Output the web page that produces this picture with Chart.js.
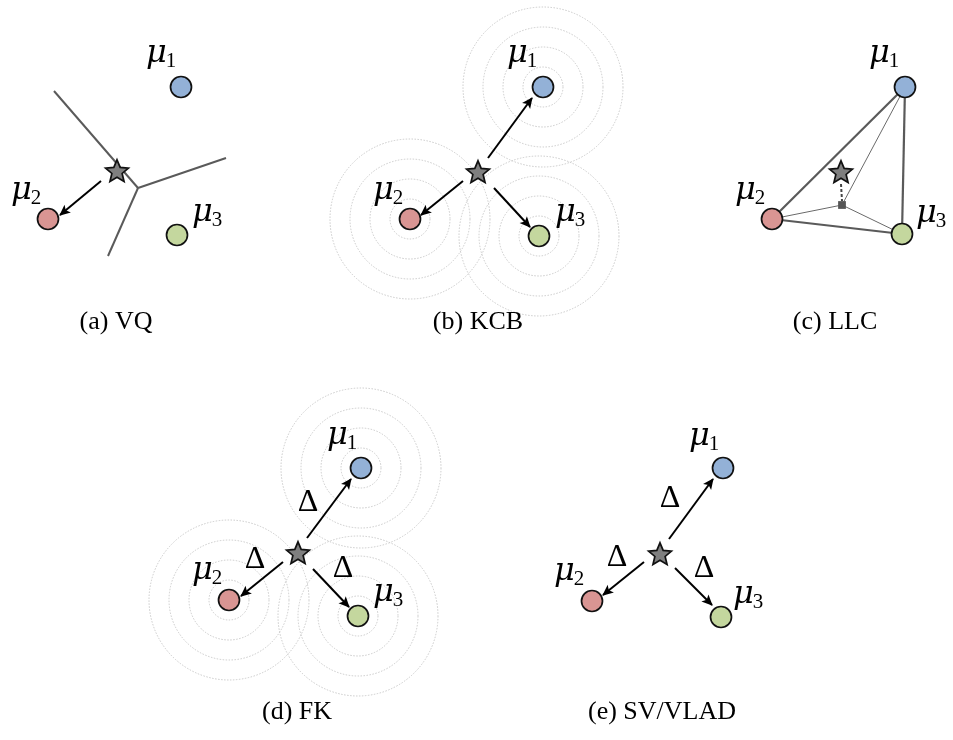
<!DOCTYPE html>
<html><head><meta charset="utf-8">
<script src="https://cdn.jsdelivr.net/npm/chart.js@4"></script>
<style>html,body{margin:0;padding:0;background:#fff}canvas{display:block}</style>
</head><body>
<canvas id="c" width="953" height="740"></canvas>
<script>
// ---- data (diagram coordinates) ----
const captions   = ['(a) VQ', '(b) KCB', '(c) LLC', '(d) FK', '(e) SV/VLAD'];
const captionX   = [116, 478, 835, 297, 662];
const captionY   = [322, 322, 322, 712, 712];

const mu1X = [181, 543, 905, 361, 723];
const mu1Y = [87, 87, 87, 468, 468];
const mu2X = [48, 410, 772, 229, 592];
const mu2Y = [219, 219, 219, 600, 601];
const mu3X = [177, 539, 902, 358, 721];
const mu3Y = [235, 236, 234, 616, 617];
const starX = [117, 478, 841, 298, 660];
const starY = [171, 172, 172, 553, 554];

// labels: mu (left x, baseline y) with subscript
const labelText = ['1','2','3','1','2','3','1','2','3','1','2','3','1','2','3'];
const labelX = [146, 11, 192, 507, 373, 555, 869, 735, 916, 327, 192, 373, 689, 554, 733];
const labelY = [62, 199, 221, 62, 199, 221, 62, 199, 222, 444, 579, 601, 445, 580, 603];

// Delta labels (centre)
const deltaX = [308, 255, 343, 670, 617, 704];
const deltaY = [503, 560, 569, 499, 558, 569];

// VQ Voronoi edges
const vqJunctionX = 138, vqJunctionY = 188;
const vqEndX = [54, 226, 108];
const vqEndY = [91, 158, 256];

// arrows (start -> end)
const arrX1 = [101, 488, 463, 494, 307, 283, 313, 669, 644, 675];
const arrY1 = [181, 158, 181, 188, 538, 562, 569, 539, 562, 568];
const arrX2 = [60, 532, 421, 530, 351, 241, 349, 713, 603, 712];
const arrY2 = [215, 98, 215, 227, 479, 596, 607, 479, 595, 605];

// LLC projection
const llcSqX = 842, llcSqY = 205;
const llcDashX = [841, 842], llcDashY = [184, 201];

// concentric rings (panels b and d)
const ringPanels = [1, 3];
const ringRadii = [20, 40, 60, 80];

// ---- star image ----
function makeStar() {
  const c = document.createElement('canvas');
  c.width = 30; c.height = 30;
  const g = c.getContext('2d');
  g.beginPath();
  for (let i = 0; i < 10; i++) {
    const r = i % 2 === 0 ? 12 : 5.4;
    const a = -Math.PI / 2 + i * Math.PI / 5;
    const px = 15 + r * Math.cos(a), py = 15.8 + r * Math.sin(a);
    i === 0 ? g.moveTo(px, py) : g.lineTo(px, py);
  }
  g.closePath();
  g.fillStyle = '#7f7f7f'; g.fill();
  g.lineWidth = 1.7; g.strokeStyle = '#111'; g.lineJoin = 'miter'; g.stroke();
  return c;
}
const starImg = makeStar();

// ---- datasets ----
const ds = [];
function pts(xs, ys) { return xs.map((x, i) => ({x: x, y: ys[i]})); }
function seg(x1, y1, x2, y2, color, width, dash, extra) {
  return Object.assign({
    data: [{x: x1, y: y1}, {x: x2, y: y2}], showLine: true, pointRadius: 0,
    borderColor: color, borderWidth: width, borderDash: dash || [], order: 5,
    borderCapStyle: 'butt'
  }, extra || {});
}
function node(xs, ys, fill) {
  return {data: pts(xs, ys), pointRadius: 10.5, pointBackgroundColor: fill,
    pointBorderColor: '#111', pointBorderWidth: 1.7, showLine: false, order: 1};
}
ds.push(node(mu1X, mu1Y, '#93b1d7'));
ds.push(node(mu2X, mu2Y, '#d99593'));
ds.push(node(mu3X, mu3Y, '#c4d79e'));
ds.push({data: pts(starX, starY), pointStyle: starImg, pointRadius: 12, showLine: false, order: 1});
ds.push({data: [{x: llcSqX, y: llcSqY}], pointStyle: 'rect', pointRadius: 5.5, rotation: 0,
  pointBackgroundColor: '#555', pointBorderColor: '#555', pointBorderWidth: 0, showLine: false, order: 2});

// VQ edges
vqEndX.forEach((x, i) => ds.push(seg(vqJunctionX, vqJunctionY, x, vqEndY[i], '#5a5a5a', 2)));
// LLC triangle
ds.push(seg(mu1X[2], mu1Y[2], mu2X[2], mu2Y[2], '#5a5a5a', 2.2));
ds.push(seg(mu2X[2], mu2Y[2], mu3X[2], mu3Y[2], '#5a5a5a', 2.2));
ds.push(seg(mu3X[2], mu3Y[2], mu1X[2], mu1Y[2], '#5a5a5a', 2.2));
ds.push(seg(llcSqX, llcSqY, mu1X[2], mu1Y[2], '#6a6a6a', 1));
ds.push(seg(llcSqX, llcSqY, mu2X[2], mu2Y[2], '#6a6a6a', 1));
ds.push(seg(llcSqX, llcSqY, mu3X[2], mu3Y[2], '#6a6a6a', 1));
ds.push(seg(llcDashX[0], llcDashY[0], llcDashX[1], llcDashY[1], '#444', 2, [3, 2]));
// arrows
arrX1.forEach((x, i) => ds.push(seg(x, arrY1[i], arrX2[i], arrY2[i], '#000', 2, [], {arrow: true})));

// ---- plugins ----
const ringPlugin = {
  id: 'rings',
  beforeDatasetsDraw(chart) {
    const sx = chart.scales.x, sy = chart.scales.y, g = chart.ctx;
    g.save();
    g.strokeStyle = '#c9c9c9'; g.lineWidth = 1; g.setLineDash([1.5, 1.5]);
    ringPanels.forEach(p => {
      [[mu1X, mu1Y], [mu2X, mu2Y], [mu3X, mu3Y]].forEach(([xs, ys]) => {
        const cx = sx.getPixelForValue(xs[p]), cy = sy.getPixelForValue(ys[p]);
        ringRadii.forEach(r => {
          const rp = sx.getPixelForValue(xs[p] + r) - cx;
          g.beginPath(); g.arc(cx, cy, rp, 0, Math.PI * 2); g.stroke();
        });
      });
    });
    g.restore();
  }
};
const arrowPlugin = {
  id: 'arrows',
  afterDatasetsDraw(chart) {
    const g = chart.ctx;
    chart.data.datasets.forEach((d, i) => {
      if (!d.arrow) return;
      const m = chart.getDatasetMeta(i).data;
      const a = m[0], b = m[1];
      const ang = Math.atan2(b.y - a.y, b.x - a.x);
      g.save(); g.translate(b.x, b.y); g.rotate(ang);
      g.beginPath();
      g.moveTo(1, 0); g.lineTo(-10, -5); g.lineTo(-7.5, 0); g.lineTo(-10, 5); g.closePath();
      g.fillStyle = '#000'; g.fill();
      g.restore();
    });
  }
};
const textPlugin = {
  id: 'texts',
  afterDatasetsDraw(chart) {
    const sx = chart.scales.x, sy = chart.scales.y, g = chart.ctx;
    g.save();
    g.fillStyle = '#000';
    // mu labels
    labelX.forEach((x, i) => {
      const px = sx.getPixelForValue(x), py = sy.getPixelForValue(labelY[i]);
      g.textAlign = 'left'; g.textBaseline = 'alphabetic';
      g.font = 'italic 32px "DejaVu Serif", serif';
      g.fillText('\u03bc', px, py);
      const w = g.measureText('\u03bc').width;
      g.font = '21px "Liberation Serif", serif';
      g.fillText(labelText[i], px + w - 1, py + 5);
    });
    // deltas
    g.font = '32px "Liberation Serif", serif';
    g.textAlign = 'center'; g.textBaseline = 'middle';
    deltaX.forEach((x, i) => g.fillText('\u0394', sx.getPixelForValue(x), sy.getPixelForValue(deltaY[i])));
    // captions
    g.font = '26px "Liberation Serif", serif';
    captions.forEach((t, i) => g.fillText(t, sx.getPixelForValue(captionX[i]), sy.getPixelForValue(captionY[i])));
    g.restore();
  }
};

new Chart(document.getElementById('c'), {
  type: 'scatter',
  data: {datasets: ds},
  options: {
    responsive: false, animation: false, maintainAspectRatio: false,
    layout: {padding: 0, autoPadding: false},
    plugins: {legend: {display: false}, tooltip: {enabled: false}},
    elements: {line: {tension: 0}},
    scales: {
      x: {type: 'linear', min: 0, max: 953, display: false},
      y: {type: 'linear', min: 0, max: 740, reverse: true, display: false}
    }
  },
  plugins: [ringPlugin, arrowPlugin, textPlugin]
});
</script>
</body></html>
